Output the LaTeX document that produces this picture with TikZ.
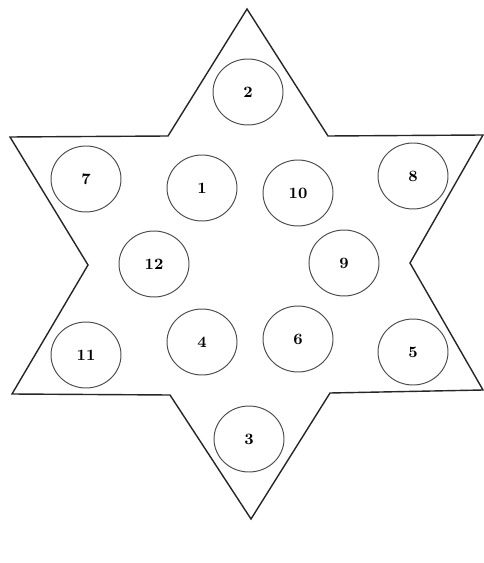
\documentclass[tikz,border=0pt]{standalone}
\usepackage{tikz}
\usetikzlibrary{shapes.geometric}

\begin{document}
\begin{tikzpicture}[
  x=0.02cm, y=-0.02cm,
  outline/.style={draw=black!85, line width=0.8pt, line join=miter},
  hole/.style={ellipse, draw=black!70, line width=0.55pt, minimum width=1.4cm,
               minimum height=1.32cm, inner sep=0pt, font=\small\bfseries}
]
  \useasboundingbox (0,0) rectangle (483,563);
  % star outline
  \draw[outline] (247,9) -- (328,136) -- (483,135) -- (410,263) -- (483,390)
    -- (330,393) -- (251,519) -- (170,395) -- (12,394) -- (88,265)
    -- (10,137) -- (168,136) -- cycle;
  % top and bottom points
  \node[hole] (h2) at (248,92) {2};
  \node[hole] (h3) at (249,439) {3};
  % upper row
  \node[hole] (h7) at (86,179) {7};
  \node[hole] (h1) at (202,188) {1};
  \node[hole] (h10) at (298,193) {10};
  \node[hole] (h8) at (413,176) {8};
  % middle row
  \node[hole] (h12) at (154,264) {12};
  \node[hole] (h9) at (344,263) {9};
  % lower row
  \node[hole] (h11) at (86,355) {11};
  \node[hole] (h4) at (202,342) {4};
  \node[hole] (h6) at (298,339) {6};
  \node[hole] (h5) at (413,352) {5};
\end{tikzpicture}
\end{document}
